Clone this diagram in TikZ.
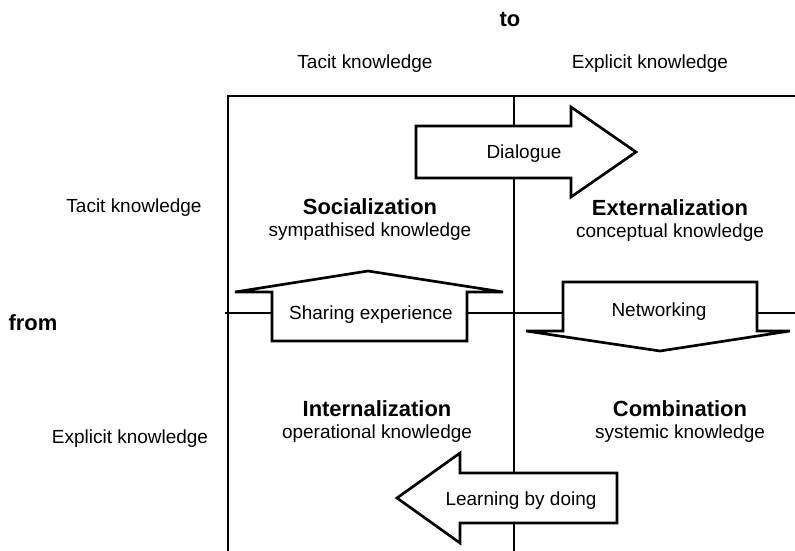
\documentclass[tikz,border=0pt]{standalone}
\usepackage{fontspec}
\setmainfont{Liberation Sans}
\begin{document}
\begin{tikzpicture}
    [
    x=0.025cm, y=-0.025cm,
    txt/.style={inner sep=0pt,font=\fontsize{13.5}{16}\selectfont},
    head/.style={inner sep=0pt,font=\fontsize{15.6}{18}\selectfont\bfseries},
    frame/.style={line width=1.5pt},
    block/.style={line width=1.9pt,fill=white,line join=miter}
    ]
    \useasboundingbox (0,0) rectangle (795,551);

    \draw [frame] (228,551) -- (228,96) -- (795,96);
    \draw [frame] (514,96) -- (514,551);
    \draw [frame] (225,313) -- (795,313);

    \node (to) at (510,19) [head] {to};
    \node (from) at (33,323) [head] {from};
    \node (c0) at (365,64) [txt] {Tacit knowledge};
    \node (c1) at (650,64) [txt] {Explicit knowledge};
    \node (r0) at (134,208) [txt] {Tacit knowledge};
    \node (r1) at (130,439) [txt] {Explicit knowledge};

    \node (0) at (370,207) [head,label={[txt,label distance=5pt]below:sympathised knowledge}] {Socialization};
    \node (1) at (670,208) [head,label={[txt,label distance=5pt]below:conceptual knowledge}] {Externalization};
    \node (2) at (377,409) [head,label={[txt,label distance=5pt]below:operational knowledge}] {Internalization};
    \node (3) at (680,409) [head,label={[txt,label distance=5pt]below:systemic knowledge}] {Combination};

    \draw [block] (416,126) -- (571,126) -- (571,107) -- (636,152) -- (571,197) -- (571,178) -- (416,178) -- cycle;
    \node (a) at (524,154) [txt] {Dialogue};

    \draw [block] (235,292) -- (368,271) -- (503,292) -- (467,292) -- (467,341) -- (272,341) -- (272,292) -- cycle;
    \node (b) at (371,315) [txt] {Sharing experience};

    \draw [block] (563,282) -- (757,282) -- (757,331) -- (790,331) -- (660,351) -- (526,331) -- (563,331) -- cycle;
    \node (c) at (659,312) [txt] {Networking};

    \draw [block] (617,473) -- (460,473) -- (460,453) -- (397,498) -- (460,543) -- (460,523) -- (617,523) -- cycle;
    \node (d) at (521,501) [txt] {Learning by doing};
  \end{tikzpicture}
\end{document}
